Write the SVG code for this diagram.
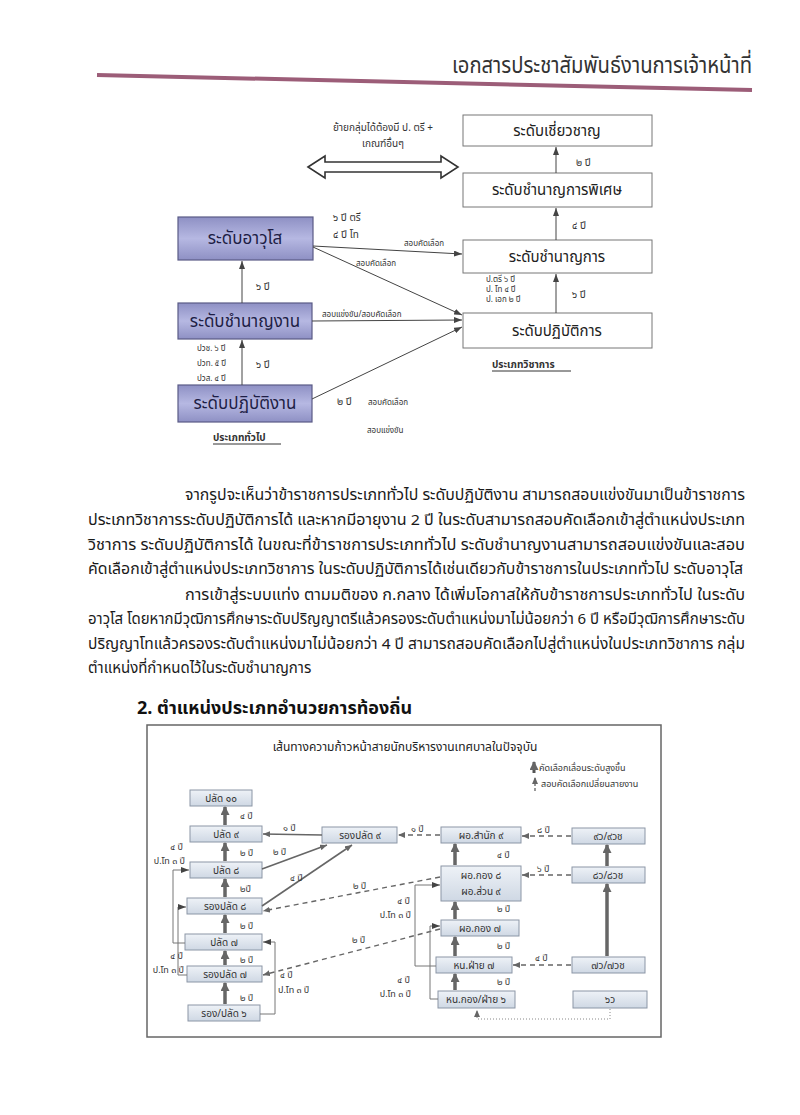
<svg xmlns="http://www.w3.org/2000/svg" width="800" height="1115" viewBox="0 0 800 1115">
<defs>
<style>
text{font-family:"Noto Sans Thai","Noto Sans","DejaVu Sans",sans-serif;fill:#222}
.hd{font-size:23px;fill:#333}
.p{font-size:15px;fill:#1a1a1a}
.h2{font-size:18px;font-weight:bold;fill:#111}
.lb{font-size:17px;fill:#1e1e45;text-anchor:middle}
.rb{font-size:15px;fill:#222;text-anchor:middle}
.s{font-size:10px;fill:#333}
.xs{font-size:8px;fill:#333}
.bb{font-size:10px;fill:#333;text-anchor:middle}
.bl{font-size:9px;fill:#333}
.lboxr{fill:url(#gL);stroke:#5a5b86;stroke-width:1.2}
.rbox{fill:#fff;stroke:#777;stroke-width:1}
.bbox{fill:url(#gB);stroke:#8b96a6;stroke-width:1}
.ln{stroke:#444;stroke-width:1;fill:none}
.th{stroke:#666;stroke-width:3.5;fill:none}
.ds{stroke:#666;stroke-width:1.4;stroke-dasharray:5,4;fill:none}
.el{stroke:#777;stroke-width:1;fill:none}
</style>
<linearGradient id="gL" x1="0" y1="0" x2="0" y2="1">
<stop offset="0" stop-color="#8e90c4"/><stop offset="0.5" stop-color="#b6b8e2"/><stop offset="1" stop-color="#8e90c4"/>
</linearGradient>
<linearGradient id="gB" x1="0" y1="0" x2="0" y2="1">
<stop offset="0" stop-color="#eef2f7"/><stop offset="1" stop-color="#cfd8e4"/>
</linearGradient>
<marker id="aS" markerUnits="userSpaceOnUse" markerWidth="8" markerHeight="6" refX="8" refY="3" orient="auto"><path d="M0,0 L8,3 L0,6 z" fill="#444"/></marker>
<marker id="aT" markerUnits="userSpaceOnUse" markerWidth="9" markerHeight="9" refX="8" refY="4.5" orient="auto"><path d="M0,0 L9,4.5 L0,9 z" fill="#666"/></marker>
<marker id="aD" markerUnits="userSpaceOnUse" markerWidth="7" markerHeight="6" refX="7" refY="3" orient="auto"><path d="M0,0 L7,3 L0,6 z" fill="#666"/></marker>
</defs>
<rect width="800" height="1115" fill="#fff"/>

<g id="header">
<text class="hd" x="752" y="73" text-anchor="end" textLength="300" lengthAdjust="spacingAndGlyphs">เอกสารประชาสัมพันธ์งานการเจ้าหน้าที่</text>
<line x1="97" y1="75" x2="752" y2="90" stroke="#9c5d78" stroke-width="4"/>
</g>

<g id="top-diagram">
<g id="n-expert"><rect class="rbox" x="463" y="115" width="189" height="31"/><text class="rb" x="557" y="136">ระดับเชี่ยวชาญ</text></g>
<g id="n-senior-prof"><rect class="rbox" x="463" y="173" width="189" height="34"/><text class="rb" x="557" y="195">ระดับชำนาญการพิเศษ</text></g>
<g id="n-prof"><rect class="rbox" x="463" y="240" width="189" height="33"/><text class="rb" x="557" y="262">ระดับชำนาญการ</text></g>
<g id="n-practitioner"><rect class="rbox" x="463" y="313" width="189" height="35"/><text class="rb" x="557" y="336">ระดับปฏิบัติการ</text></g>
<g id="n-senior"><rect class="lboxr" x="178" y="217" width="135" height="43"/><text class="lb" x="245" y="244">ระดับอาวุโส</text></g>
<g id="n-experienced"><rect class="lboxr" x="178" y="303" width="134" height="36"/><text class="lb" x="245" y="327">ระดับชำนาญงาน</text></g>
<g id="n-operational"><rect class="lboxr" x="178" y="385" width="134" height="37"/><text class="lb" x="245" y="409">ระดับปฏิบัติงาน</text></g>

<g id="top-connectors">
<line class="ln" x1="556" y1="173" x2="556" y2="147" marker-end="url(#aS)"/>
<line class="ln" x1="556" y1="240" x2="556" y2="208" marker-end="url(#aS)"/>
<line class="ln" x1="556" y1="313" x2="556" y2="274" marker-end="url(#aS)"/>
<line class="ln" x1="242" y1="303" x2="242" y2="261" marker-end="url(#aS)"/>
<line class="ln" x1="242" y1="385" x2="242" y2="340" marker-end="url(#aS)"/>
<line class="ln" x1="313" y1="246" x2="462" y2="254" marker-end="url(#aS)"/>
<line class="ln" x1="313" y1="247" x2="462" y2="315" marker-end="url(#aS)"/>
<line class="ln" x1="312" y1="321" x2="462" y2="320" marker-end="url(#aS)"/>
<line class="ln" x1="312" y1="399" x2="462" y2="327" marker-end="url(#aS)"/>
<polygon points="308,167 325,156 325,162 441,162 441,156 458,167 441,178 441,172 325,172 325,178" fill="#fff" stroke="#333" stroke-width="1.6"/>
</g>

<g id="top-labels">
<text class="s" x="383" y="131" text-anchor="middle">ย้ายกลุ่มได้ต้องมี  ป. ตรี +</text>
<text class="s" x="383" y="147" text-anchor="middle">เกณฑ์อื่นๆ</text>
<text class="s" x="576" y="166">๒ ปี</text>
<text class="s" x="572" y="229">๔ ปี</text>
<text class="s" x="572" y="298">๖ ปี</text>
<text class="xs" x="486" y="282">ป.ตรี  ๖ ปี</text>
<text class="xs" x="486" y="292">ป. โท  ๔ ปี</text>
<text class="xs" x="486" y="302">ป. เอก ๒ ปี</text>
<text class="s" x="333" y="221">๖ ปี ตรี</text>
<text class="s" x="333" y="238">๔ ปี โท</text>
<text class="xs" x="404" y="246">สอบคัดเลือก</text>
<text class="xs" x="356" y="266">สอบคัดเลือก</text>
<text class="xs" x="322" y="317">สอบแข่งขัน/สอบคัดเลือก</text>
<text class="s" x="256" y="290">๖ ปี</text>
<text class="s" x="256" y="368">๖ ปี</text>
<text class="xs" x="197" y="351">ปวช. ๖ ปี</text>
<text class="xs" x="197" y="366">ปวท. ๕ ปี</text>
<text class="xs" x="197" y="381">ปวส. ๔ ปี</text>
<text class="s" x="337" y="405">๒ ปี</text>
<text class="xs" x="368" y="405">สอบคัดเลือก</text>
<text class="xs" x="367" y="433">สอบแข่งขัน</text>
<text class="s" x="213" y="441" font-weight="bold">ประเภททั่วไป</text>
<line x1="213" y1="444" x2="281" y2="444" stroke="#333" stroke-width="1"/>
<text class="s" x="492" y="368" font-weight="bold">ประเภทวิชาการ</text>
<line x1="492" y1="371" x2="571" y2="371" stroke="#333" stroke-width="1"/>
</g>
</g>

<g id="paragraph">
<text class="p" x="185" y="500" textLength="560" lengthAdjust="spacingAndGlyphs">จากรูปจะเห็นว่าข้าราชการประเภททั่วไป ระดับปฏิบัติงาน สามารถสอบแข่งขันมาเป็นข้าราชการ</text>
<text class="p" x="88" y="525" textLength="657" lengthAdjust="spacingAndGlyphs">ประเภทวิชาการระดับปฏิบัติการได้ และหากมีอายุงาน 2 ปี ในระดับสามารถสอบคัดเลือกเข้าสู่ตำแหน่งประเภท</text>
<text class="p" x="88" y="550" textLength="657" lengthAdjust="spacingAndGlyphs">วิชาการ ระดับปฏิบัติการได้ ในขณะที่ข้าราชการประเภททั่วไป ระดับชำนาญงานสามารถสอบแข่งขันและสอบ</text>
<text class="p" x="88" y="574" textLength="655" lengthAdjust="spacingAndGlyphs">คัดเลือกเข้าสู่ตำแหน่งประเภทวิชาการ ในระดับปฏิบัติการได้เช่นเดียวกับข้าราชการในประเภททั่วไป ระดับอาวุโส</text>
<text class="p" x="185" y="600" textLength="560" lengthAdjust="spacingAndGlyphs">การเข้าสู่ระบบแท่ง ตามมติของ ก.กลาง ได้เพิ่มโอกาสให้กับข้าราชการประเภททั่วไป ในระดับ</text>
<text class="p" x="88" y="624" textLength="657" lengthAdjust="spacingAndGlyphs">อาวุโส โดยหากมีวุฒิการศึกษาระดับปริญญาตรีแล้วครองระดับตำแหน่งมาไม่น้อยกว่า 6 ปี หรือมีวุฒิการศึกษาระดับ</text>
<text class="p" x="88" y="649" textLength="657" lengthAdjust="spacingAndGlyphs">ปริญญาโทแล้วครองระดับตำแหน่งมาไม่น้อยกว่า 4 ปี สามารถสอบคัดเลือกไปสู่ตำแหน่งในประเภทวิชาการ กลุ่ม</text>
<text class="p" x="88" y="673">ตำแหน่งที่กำหนดไว้ในระดับชำนาญการ</text>
</g>

<text class="h2" x="137" y="714">2. ตำแหน่งประเภทอำนวยการท้องถิ่น</text>

<g id="bottom-diagram">
<rect x="147" y="725" width="514" height="312" fill="none" stroke="#666" stroke-width="1.5"/>
<text x="405" y="751" text-anchor="middle" font-size="12" fill="#222">เส้นทางความก้าวหน้าสายนักบริหารงานเทศบาลในปัจจุบัน</text>

<g id="legend">
<line x1="534" y1="773" x2="534" y2="762" stroke="#555" stroke-width="3" marker-end="url(#aT)"/>
<text class="bl" x="539" y="771">คัดเลือกเลื่อนระดับสูงขึ้น</text>
<line x1="535" y1="791" x2="535" y2="777" stroke="#555" stroke-width="1.2" stroke-dasharray="3,2" marker-end="url(#aD)"/>
<text class="bl" x="541" y="787">สอบคัดเลือกเปลี่ยนสายงาน</text>
</g>

<g id="b-p10"><rect class="bbox" x="190" y="790" width="62" height="16"/><text class="bb" x="221" y="802">ปลัด ๑๐</text></g>
<g id="b-p9"><rect class="bbox" x="190" y="826" width="72" height="16"/><text class="bb" x="226" y="838">ปลัด ๙</text></g>
<g id="b-p8"><rect class="bbox" x="190" y="862" width="72" height="16"/><text class="bb" x="226" y="874">ปลัด ๘</text></g>
<g id="b-rp8"><rect class="bbox" x="187" y="898" width="75" height="16"/><text class="bb" x="225" y="910">รองปลัด ๘</text></g>
<g id="b-p7"><rect class="bbox" x="185" y="934" width="77" height="16"/><text class="bb" x="224" y="946">ปลัด ๗</text></g>
<g id="b-rp7"><rect class="bbox" x="187" y="966" width="75" height="16"/><text class="bb" x="225" y="978">รองปลัด ๗</text></g>
<g id="b-rp6"><rect class="bbox" x="188" y="1005" width="72" height="16"/><text class="bb" x="224" y="1017">รอง/ปลัด ๖</text></g>
<g id="b-rp9"><rect class="bbox" x="322" y="827" width="75" height="16"/><text class="bb" x="360" y="839">รองปลัด ๙</text></g>
<g id="b-dir9"><rect class="bbox" x="441" y="827" width="80" height="16"/><text class="bb" x="481" y="839">ผอ.สำนัก ๙</text></g>
<g id="b-dir8"><rect class="bbox" x="441" y="866" width="80" height="35"/><text class="bb" x="481" y="879">ผอ.กอง ๘</text><text class="bb" x="481" y="895">ผอ.ส่วน ๙</text></g>
<g id="b-dir7"><rect class="bbox" x="441" y="920" width="78" height="16"/><text class="bb" x="480" y="932">ผอ.กอง ๗</text></g>
<g id="b-hd7"><rect class="bbox" x="436" y="957" width="76" height="16"/><text class="bb" x="474" y="969">หน.ฝ่าย ๗</text></g>
<g id="b-hd6"><rect class="bbox" x="438" y="991" width="77" height="17"/><text class="bb" x="476" y="1003">หน.กอง/ฝ่าย ๖</text></g>
<g id="b-9v"><rect class="bbox" x="572" y="828" width="73" height="16"/><text class="bb" x="608" y="840">๙ว/๙วช</text></g>
<g id="b-8v"><rect class="bbox" x="572" y="867" width="73" height="16"/><text class="bb" x="608" y="879">๘ว/๘วช</text></g>
<g id="b-7v"><rect class="bbox" x="572" y="957" width="73" height="16"/><text class="bb" x="608" y="969">๗ว/๗วช</text></g>
<g id="b-6v"><rect class="bbox" x="573" y="991" width="74" height="17"/><text class="bb" x="610" y="1003">๖ว</text></g>

<g id="bottom-connectors">
<line class="th" x1="225" y1="825" x2="225" y2="807" marker-end="url(#aT)"/>
<line class="th" x1="225" y1="861" x2="225" y2="843" marker-end="url(#aT)"/>
<line class="th" x1="225" y1="897" x2="225" y2="879" marker-end="url(#aT)"/>
<line class="th" x1="225" y1="933" x2="225" y2="915" marker-end="url(#aT)"/>
<line class="th" x1="225" y1="965" x2="225" y2="951" marker-end="url(#aT)"/>
<line class="th" x1="225" y1="1004" x2="225" y2="983" marker-end="url(#aT)"/>
<line class="th" x1="455" y1="865" x2="455" y2="844" marker-end="url(#aT)"/>
<line class="th" x1="455" y1="919" x2="455" y2="902" marker-end="url(#aT)"/>
<line class="th" x1="455" y1="956" x2="455" y2="937" marker-end="url(#aT)"/>
<line class="th" x1="455" y1="990" x2="455" y2="974" marker-end="url(#aT)"/>
<line class="th" x1="607" y1="866" x2="607" y2="845" marker-end="url(#aT)"/>
<line class="th" x1="607" y1="956" x2="607" y2="884" marker-end="url(#aT)"/>
<line x1="322" y1="835" x2="263" y2="834" stroke="#666" stroke-width="1.6" marker-end="url(#aD)"/>
<line x1="262" y1="869" x2="327" y2="845" stroke="#666" stroke-width="1.6" marker-end="url(#aD)"/>
<line x1="262" y1="906" x2="352" y2="845" stroke="#666" stroke-width="1.6" marker-end="url(#aD)"/>
<line class="ds" x1="440" y1="835" x2="398" y2="835" marker-end="url(#aD)"/>
<line class="ds" x1="440" y1="877" x2="263" y2="911" marker-end="url(#aD)"/>
<line class="ds" x1="440" y1="929" x2="263" y2="975" marker-end="url(#aD)"/>
<line class="ds" x1="571" y1="836" x2="522" y2="836" marker-end="url(#aD)"/>
<line class="ds" x1="571" y1="875" x2="522" y2="875" marker-end="url(#aD)"/>
<line class="ds" x1="571" y1="965" x2="513" y2="965" marker-end="url(#aD)"/>
<polyline class="el" points="185,943 173,943 173,870 189,870" marker-end="url(#aS)"/>
<polyline class="el" points="187,975 178,975 178,907 186,907" marker-end="url(#aS)"/>
<polyline class="el" points="260,1014 275,1014 275,942 263,942" marker-end="url(#aS)"/>
<polyline class="el" points="436,966 415,966 415,885 440,885" marker-end="url(#aS)"/>
<polyline class="el" points="438,999 430,999 430,926 440,926" marker-end="url(#aS)"/>
<polyline points="610,1009 610,1019 477,1019 477,1010" fill="none" stroke="#888" stroke-width="1" stroke-dasharray="1,2" marker-end="url(#aD)"/>
</g>

<g id="bottom-labels">
<text class="bl" x="240" y="819">๔ ปี</text>
<text class="bl" x="240" y="856">๒ ปี</text>
<text class="bl" x="240" y="892">๒ปี</text>
<text class="bl" x="240" y="929">๒ ปี</text>
<text class="bl" x="240" y="963">๒ ปี</text>
<text class="bl" x="240" y="1001">๒ ปี</text>
<text class="bl" x="283" y="831">๑ ปี</text>
<text class="bl" x="273" y="855">๒ ปี</text>
<text class="bl" x="290" y="881">๔ ปี</text>
<text class="bl" x="353" y="889">๒ ปี</text>
<text class="bl" x="352" y="943">๒ ปี</text>
<text class="bl" x="411" y="832">๑ ปี</text>
<text class="bl" x="183" y="850" text-anchor="end">๔ ปี</text>
<text class="bl" x="185" y="864" text-anchor="end">ป.โท ๓ ปี</text>
<text class="bl" x="183" y="959" text-anchor="end">๔ ปี</text>
<text class="bl" x="184" y="973" text-anchor="end">ป.โท ๓ ปี</text>
<text class="bl" x="280" y="978">๔ ปี</text>
<text class="bl" x="278" y="993">ป.โท ๓ ปี</text>
<text class="bl" x="497" y="858">๔ ปี</text>
<text class="bl" x="497" y="912">๒ ปี</text>
<text class="bl" x="497" y="949">๒ ปี</text>
<text class="bl" x="497" y="985">๒ ปี</text>
<text class="bl" x="537" y="833">๘ ปี</text>
<text class="bl" x="537" y="872">๖ ปี</text>
<text class="bl" x="535" y="961">๔ ปี</text>
<text class="bl" x="410" y="904" text-anchor="end">๔ ปี</text>
<text class="bl" x="411" y="918" text-anchor="end">ป.โท ๓ ปี</text>
<text class="bl" x="410" y="983" text-anchor="end">๔ ปี</text>
<text class="bl" x="411" y="997" text-anchor="end">ป.โท ๓ ปี</text>
</g>
</g>
</svg>
